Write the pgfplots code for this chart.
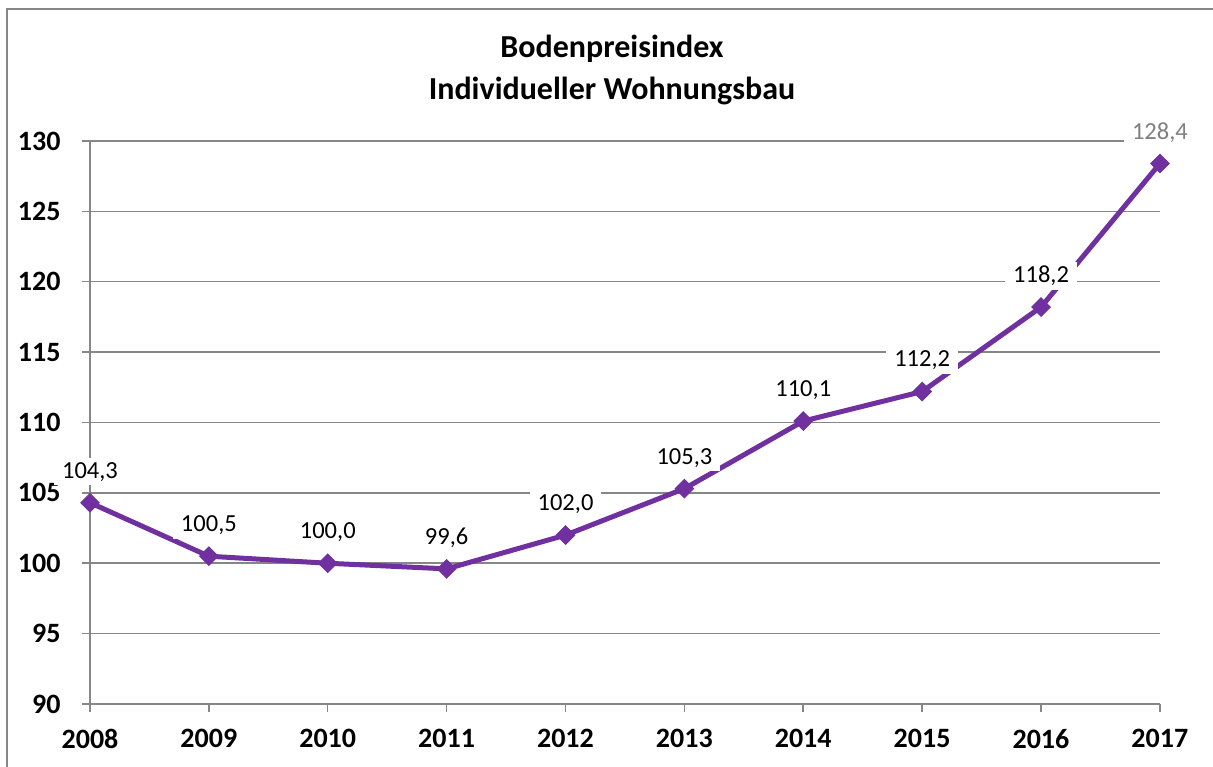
\documentclass[border=0pt]{standalone}
\usepackage{pgfplots}
\pgfplotsset{compat=1.18}
\usepackage{fontspec}
\setmainfont{Carlito}
\definecolor{lila}{RGB}{112,48,160}
\definecolor{gridgray}{RGB}{134,134,134}
\definecolor{lblgray}{RGB}{128,128,128}
\begin{document}
\begin{tikzpicture}[x=1pt,y=1pt]
\useasboundingbox (0,0) rectangle (1213,767);
\draw[gridgray, line width=2pt] (7,-5) -- (7,758) -- (1220,758);
\node[font=\fontsize{32}{36}\selectfont\bfseries] at (612,718) {Bodenpreisindex};
\node[font=\fontsize{32}{36}\selectfont\bfseries] at (612,676) {Individueller Wohnungsbau};
\begin{axis}[
  at={(90pt,63pt)}, anchor=south west,
  scale only axis, width=1070pt, height=563pt,
  xmin=2008, xmax=2017, ymin=90, ymax=130,
  axis x line*=bottom, axis y line*=left,
  axis line style={gridgray, line width=1.5pt, -},
  xtick={2008,...,2017},
  xticklabels={2008,2009,2010,2011,2012,2013,2014,2015,2016,2017},
  ytick={90,95,...,130},
  yticklabels={90,95,100,105,110,115,120,125,130},
  tick align=outside, major tick length=8pt,
  tick style={gridgray, line width=1.5pt},
  ymajorgrids, grid style={gridgray, line width=1.5pt},
  ticklabel style={font=\fontsize{28}{32}\selectfont\bfseries},
  yticklabel style={xshift=-18pt},
  xticklabel style={yshift=-14pt},
  clip=false,
]
\addplot[lila, line width=5pt, mark=square*, mark size=6.5pt, mark options={rotate=45, solid, line width=1pt}]
coordinates {(2008,104.3)(2009,100.5)(2010,100.0)(2011,99.6)(2012,102.0)(2013,105.3)(2014,110.1)(2015,112.2)(2016,118.2)(2017,128.4)};
\addplot[draw=none, mark=none, point meta=explicit symbolic,
  nodes near coords,
  every node near coord/.append style={anchor=center, yshift=31pt, fill=white, inner xsep=8pt, inner ysep=4pt, text=black, font=\fontsize{24.5}{28}\selectfont}]
coordinates {(2008,104.3)[104,3] (2009,100.5)[100,5] (2010,100.0)[100,0] (2011,99.6)[99,6] (2012,102.0)[102,0] (2013,105.3)[105,3] (2014,110.1)[110,1] (2015,112.2)[112,2] (2016,118.2)[118,2]};
\addplot[draw=none, mark=none, point meta=explicit symbolic,
  nodes near coords,
  every node near coord/.append style={anchor=center, yshift=31pt, fill=white, inner xsep=8pt, inner ysep=4pt, text=lblgray, font=\fontsize{24.5}{28}\selectfont}]
coordinates {(2017,128.4)[128,4]};
\end{axis}
\end{tikzpicture}
\end{document}
